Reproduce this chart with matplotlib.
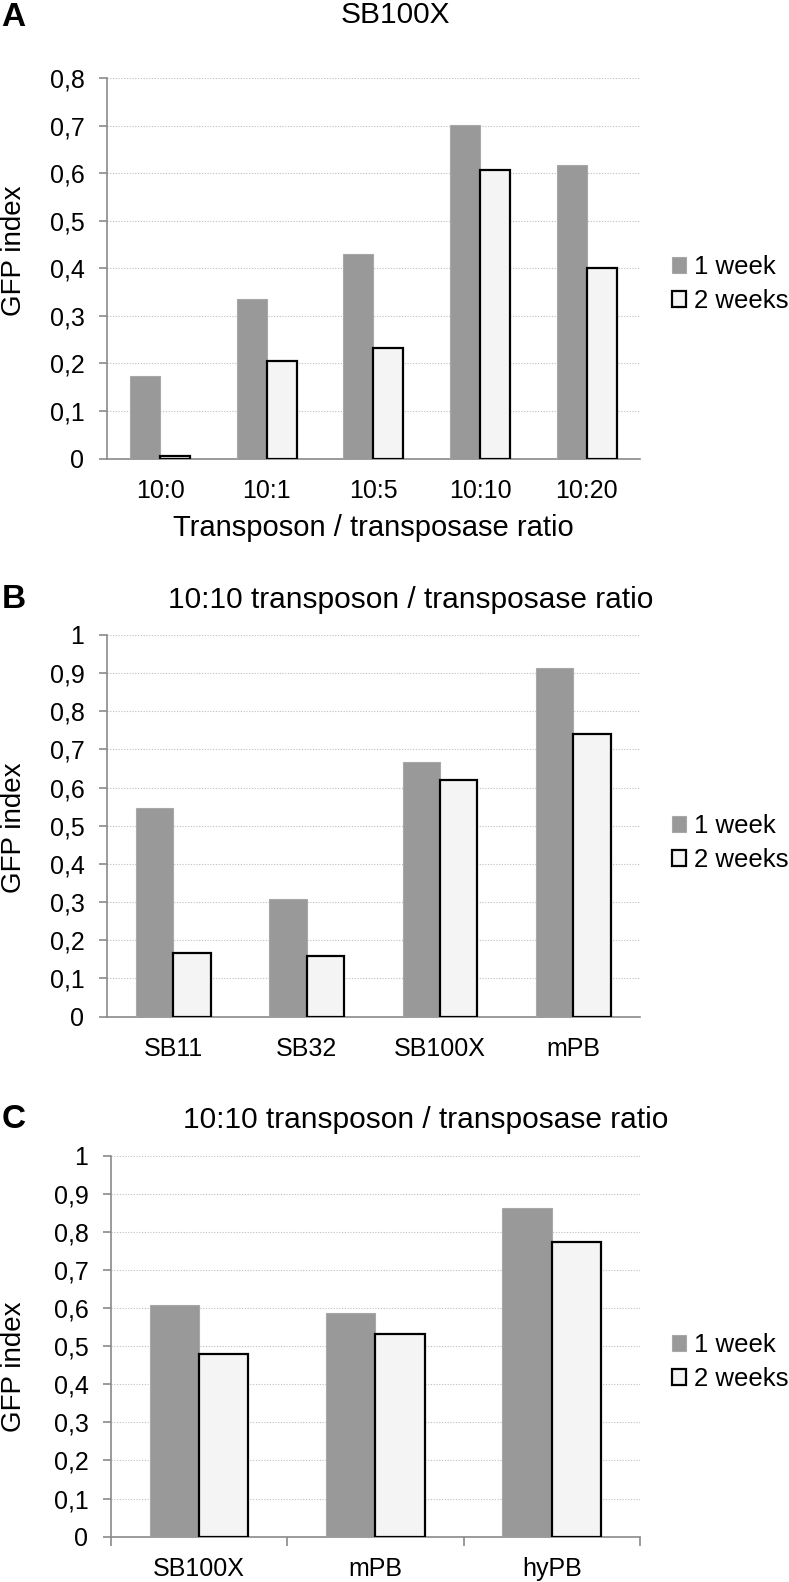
import matplotlib
matplotlib.use("Agg")
import matplotlib.pyplot as plt
from matplotlib.patches import Patch
from matplotlib.ticker import FixedLocator
import numpy as np

plt.rcParams['font.family'] = ['Liberation Sans', 'DejaVu Sans']

# ---- data ----
a_cats = ["10:0", "10:1", "10:5", "10:10", "10:20"]
a_week1 = [0.173, 0.336, 0.431, 0.701, 0.618]
a_week2 = [0.006, 0.204, 0.232, 0.606, 0.400]
a_yticks = [0, 0.1, 0.2, 0.3, 0.4, 0.5, 0.6, 0.7, 0.8]
a_ylabels = ["0", "0,1", "0,2", "0,3", "0,4", "0,5", "0,6", "0,7", "0,8"]

b_cats = ["SB11", "SB32", "SB100X", "mPB"]
b_week1 = [0.546, 0.309, 0.668, 0.914]
b_week2 = [0.166, 0.160, 0.621, 0.741]

c_cats = ["SB100X", "mPB", "hyPB"]
c_week1 = [0.608, 0.587, 0.863]
c_week2 = [0.479, 0.531, 0.773]

bc_yticks = [0, 0.1, 0.2, 0.3, 0.4, 0.5, 0.6, 0.7, 0.8, 0.9, 1.0]
bc_ylabels = ["0", "0,1", "0,2", "0,3", "0,4", "0,5", "0,6", "0,7", "0,8", "0,9", "1"]

series_names = ["1 week", "2 weeks"]
title_a = "SB100X"
title_bc = "10:10 transposon / transposase ratio"
xlabel_a = "Transposon / transposase ratio"
ylabel = "GFP index"

GRAY = "#999999"
LIGHT = "#f4f4f4"
AXCOL = "#8a8a8a"
W = 0.28
TICK_FS = 18
TITLE_FS = 21.5

fig = plt.figure(figsize=(7.89, 15.82), dpi=100)
H = 1582.0
PW = 789.0


def px_y(y):
    return 1 - y / H


def make_axes(left_px, top_px, bottom_px):
    return fig.add_axes([left_px / PW, px_y(bottom_px),
                         (640 - left_px) / PW, (bottom_px - top_px) / H])


def draw_panel(ax, cats, w1, w2, yticks, ylabels, ymax, tickmarks=False):
    x = np.arange(len(cats))
    ax.bar(x - W / 2, w1, W, color=GRAY, edgecolor="#a8a8a8", linewidth=0.8, zorder=3)
    ax.bar(x + W / 2, w2, W, color=LIGHT, edgecolor="black", linewidth=1.6, zorder=3)
    ax.set_xlim(-0.5, len(cats) - 0.5)
    ax.set_ylim(0, ymax)
    ax.yaxis.set_major_locator(FixedLocator(yticks))
    ax.set_yticklabels(ylabels, fontsize=TICK_FS)
    ax.set_xticks(x)
    ax.set_xticklabels(cats, fontsize=TICK_FS)
    ax.grid(axis="y", linestyle=(0, (1, 1.5)), color="#bdbdbd", linewidth=0.8, zorder=0)
    for s in ["top", "right"]:
        ax.spines[s].set_visible(False)
    for s in ["left", "bottom"]:
        ax.spines[s].set_color(AXCOL)
        ax.spines[s].set_linewidth(1.2)
    ax.tick_params(axis="y", length=6, width=1.2, color=AXCOL, pad=10)
    if tickmarks:
        ax.xaxis.set_minor_locator(FixedLocator(np.arange(len(cats) + 1) - 0.5))
        ax.tick_params(axis="x", which="major", length=0, pad=15)
        ax.tick_params(axis="x", which="minor", length=6.5, width=1.2, color=AXCOL, direction="out")
    else:
        ax.tick_params(axis="x", length=0, pad=15)


def add_legend(ycenter_px):
    handles = [Patch(facecolor=GRAY, edgecolor="#a8a8a8", linewidth=0.8),
               Patch(facecolor=LIGHT, edgecolor="black", linewidth=1.6)]
    fig.legend(handles, series_names, loc="center left",
               bbox_to_anchor=(672 / PW, px_y(ycenter_px)), frameon=False,
               fontsize=18.5, handlelength=0.55, handleheight=0.55,
               handletextpad=0.3, labelspacing=0.4, borderpad=0, borderaxespad=0)


def add_ylabel(ycenter_px):
    fig.text(14 / PW, px_y(ycenter_px), ylabel, fontsize=20, rotation=90,
             ha="center", va="center")


# panel A
axA = make_axes(106.7, 78, 458.5)
draw_panel(axA, a_cats, a_week1, a_week2, a_yticks, a_ylabels, 0.8)
axA.set_xlabel(xlabel_a, fontsize=21, labelpad=8)
add_ylabel(250.5)
add_legend(284)
fig.text(395.5 / PW, px_y(15), title_a, fontsize=TITLE_FS, ha="center", va="center")
fig.text(0.002, px_y(17), "A", fontsize=24, fontweight="bold", ha="left", va="center")

# panel B
axB = make_axes(106.7, 635, 1016.6)
draw_panel(axB, b_cats, b_week1, b_week2, bc_yticks, bc_ylabels, 1.0)
add_ylabel(828)
add_legend(843)
fig.text(411 / PW, px_y(600), title_bc, fontsize=TITLE_FS, ha="center", va="center")
fig.text(0.002, px_y(600), "B", fontsize=24, fontweight="bold", ha="left", va="center")

# panel C
axC = make_axes(110.7, 1155.7, 1536.6)
draw_panel(axC, c_cats, c_week1, c_week2, bc_yticks, bc_ylabels, 1.0, tickmarks=True)
add_ylabel(1367)
add_legend(1362)
fig.text(426 / PW, px_y(1120), title_bc, fontsize=TITLE_FS, ha="center", va="center")
fig.text(0.002, px_y(1120), "C", fontsize=24, fontweight="bold", ha="left", va="center")

fig.savefig("out.png", dpi=100)
